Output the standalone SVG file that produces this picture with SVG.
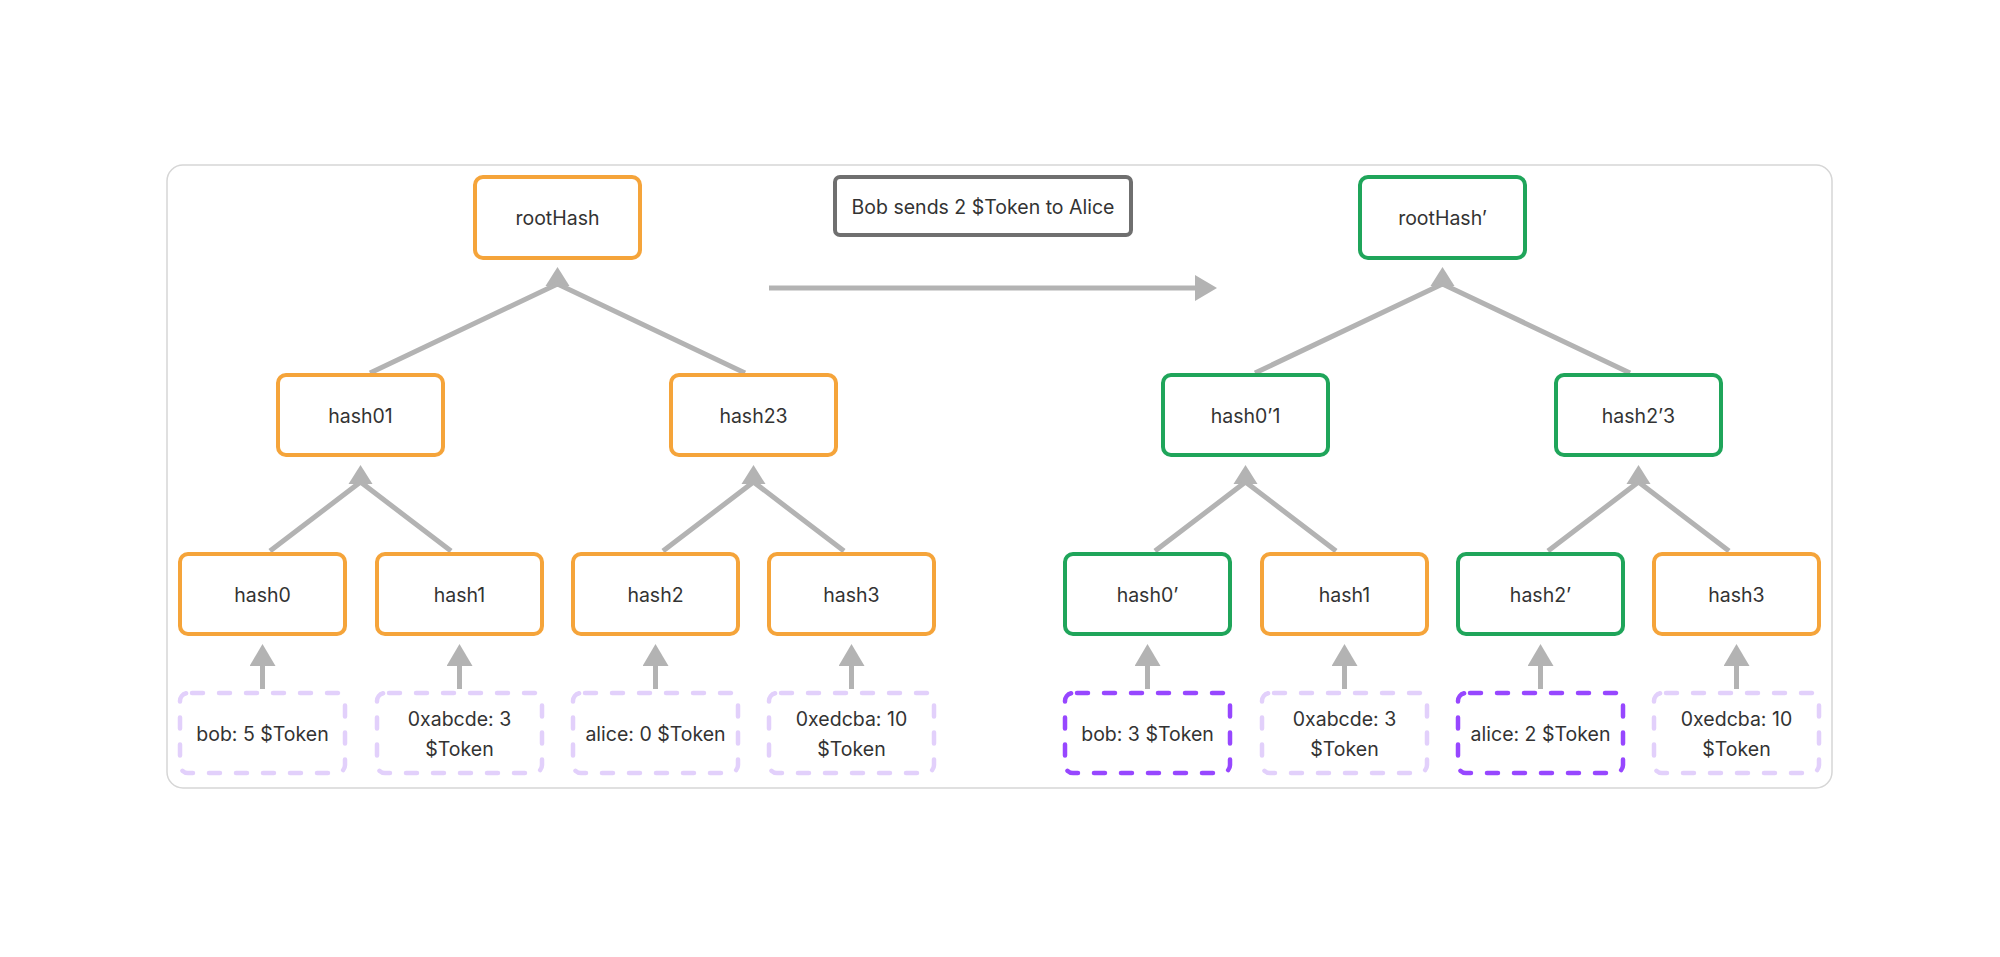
<svg xmlns="http://www.w3.org/2000/svg" xmlns:xlink="http://www.w3.org/1999/xlink" width="2000" height="957" viewBox="0 0 2000 957">
<style>
  text { font-family: Inter, "Noto Sans", "Liberation Sans", sans-serif; font-size: 19.5px; fill: #333333; text-anchor: middle; dominant-baseline: central; }
  .node { fill: #ffffff; stroke-width: 4; }
  .orange { stroke: #f5a43a; }
  .green { stroke: #1fa55a; }
  .leaf { fill: #ffffff; stroke-width: 4.5; stroke-dasharray: 11 16; stroke-dashoffset: -4; stroke-linecap: round; }
  .leaf-old { stroke: #e2d0fb; }
  .leaf-new { stroke: #9747ff; }
  .conn { stroke: #b3b3b3; stroke-width: 5; fill: none; }
  .head { fill: #b3b3b3; }
</style>
<defs>
  <marker id="ah" markerUnits="userSpaceOnUse" viewBox="0 0 22 26" refX="0" refY="13" markerWidth="22" markerHeight="26" orient="auto">
    <path d="M0,0 L22,13 L0,26 Z" fill="#b3b3b3"/>
  </marker>
  <path id="tri" d="M0,0 L12,19 L-12,19 Z"/>
</defs>

<rect x="167" y="165" width="1665" height="623" rx="16" fill="#ffffff" stroke="#d6d6d6" stroke-width="1.5"/>

<g id="connectors">
  <!-- main transition arrow -->
  <line class="conn" x1="769" y1="288" x2="1195" y2="288" marker-end="url(#ah)"/>
  <!-- left tree -->
  <use href="#tri" class="head" x="557.5" y="267"/>
  <polyline class="conn" points="370,373 557.5,284 745,373"/>
  <use href="#tri" class="head" x="360.5" y="465"/>
  <polyline class="conn" points="270,551 360.5,482 451,551"/>
  <use href="#tri" class="head" x="753.5" y="465"/>
  <polyline class="conn" points="663,551 753.5,482 844,551"/>
  <line class="conn" x1="262.5" y1="689" x2="262.5" y2="666" marker-end="url(#ah)"/>
  <line class="conn" x1="459.5" y1="689" x2="459.5" y2="666" marker-end="url(#ah)"/>
  <line class="conn" x1="655.5" y1="689" x2="655.5" y2="666" marker-end="url(#ah)"/>
  <line class="conn" x1="851.5" y1="689" x2="851.5" y2="666" marker-end="url(#ah)"/>
  <!-- right tree -->
  <use href="#tri" class="head" x="1442.5" y="267"/>
  <polyline class="conn" points="1255,373 1442.5,284 1630,373"/>
  <use href="#tri" class="head" x="1245.5" y="465"/>
  <polyline class="conn" points="1155,551 1245.5,482 1336,551"/>
  <use href="#tri" class="head" x="1638.5" y="465"/>
  <polyline class="conn" points="1548,551 1638.5,482 1729,551"/>
  <line class="conn" x1="1147.5" y1="689" x2="1147.5" y2="666" marker-end="url(#ah)"/>
  <line class="conn" x1="1344.5" y1="689" x2="1344.5" y2="666" marker-end="url(#ah)"/>
  <line class="conn" x1="1540.5" y1="689" x2="1540.5" y2="666" marker-end="url(#ah)"/>
  <line class="conn" x1="1736.5" y1="689" x2="1736.5" y2="666" marker-end="url(#ah)"/>
</g>

<g id="label-bob-sends">
  <rect x="835" y="177" width="296" height="58" rx="5" fill="#ffffff" stroke="#6f6f6f" stroke-width="4"/>
  <text x="983" y="207">Bob sends 2 $Token to Alice</text>
</g>

<!-- left tree -->
<g id="rootHash"><rect class="node orange" x="475" y="177" width="165" height="81" rx="8"/><text x="557.5" y="218">rootHash</text></g>
<g id="hash01"><rect class="node orange" x="278" y="375" width="165" height="80" rx="8"/><text x="360.5" y="416">hash01</text></g>
<g id="hash23"><rect class="node orange" x="671" y="375" width="165" height="80" rx="8"/><text x="753.5" y="416">hash23</text></g>
<g id="hash0"><rect class="node orange" x="180" y="554" width="165" height="80" rx="8"/><text x="262.5" y="595">hash0</text></g>
<g id="hash1"><rect class="node orange" x="377" y="554" width="165" height="80" rx="8"/><text x="459.5" y="595">hash1</text></g>
<g id="hash2"><rect class="node orange" x="573" y="554" width="165" height="80" rx="8"/><text x="655.5" y="595">hash2</text></g>
<g id="hash3"><rect class="node orange" x="769" y="554" width="165" height="80" rx="8"/><text x="851.5" y="595">hash3</text></g>
<g id="leaf-bob"><rect class="leaf leaf-old" x="180" y="693" width="165" height="80" rx="8"/><text x="262.5" y="734">bob: 5 $Token</text></g>
<g id="leaf-abcde"><rect class="leaf leaf-old" x="377" y="693" width="165" height="80" rx="8"/><text x="459.5" y="719">0xabcde: 3</text><text x="459.5" y="749">$Token</text></g>
<g id="leaf-alice"><rect class="leaf leaf-old" x="573" y="693" width="165" height="80" rx="8"/><text x="655.5" y="734">alice: 0 $Token</text></g>
<g id="leaf-edcba"><rect class="leaf leaf-old" x="769" y="693" width="165" height="80" rx="8"/><text x="851.5" y="719">0xedcba: 10</text><text x="851.5" y="749">$Token</text></g>

<!-- right tree -->
<g id="rootHash-new"><rect class="node green" x="1360" y="177" width="165" height="81" rx="8"/><text x="1442.5" y="218">rootHash’</text></g>
<g id="hash01-new"><rect class="node green" x="1163" y="375" width="165" height="80" rx="8"/><text x="1245.5" y="416">hash0’1</text></g>
<g id="hash23-new"><rect class="node green" x="1556" y="375" width="165" height="80" rx="8"/><text x="1638.5" y="416">hash2’3</text></g>
<g id="hash0-new"><rect class="node green" x="1065" y="554" width="165" height="80" rx="8"/><text x="1147.5" y="595">hash0’</text></g>
<g id="hash1-right"><rect class="node orange" x="1262" y="554" width="165" height="80" rx="8"/><text x="1344.5" y="595">hash1</text></g>
<g id="hash2-new"><rect class="node green" x="1458" y="554" width="165" height="80" rx="8"/><text x="1540.5" y="595">hash2’</text></g>
<g id="hash3-right"><rect class="node orange" x="1654" y="554" width="165" height="80" rx="8"/><text x="1736.5" y="595">hash3</text></g>
<g id="leaf-bob-new"><rect class="leaf leaf-new" x="1065" y="693" width="165" height="80" rx="8"/><text x="1147.5" y="734">bob: 3 $Token</text></g>
<g id="leaf-abcde-right"><rect class="leaf leaf-old" x="1262" y="693" width="165" height="80" rx="8"/><text x="1344.5" y="719">0xabcde: 3</text><text x="1344.5" y="749">$Token</text></g>
<g id="leaf-alice-new"><rect class="leaf leaf-new" x="1458" y="693" width="165" height="80" rx="8"/><text x="1540.5" y="734">alice: 2 $Token</text></g>
<g id="leaf-edcba-right"><rect class="leaf leaf-old" x="1654" y="693" width="165" height="80" rx="8"/><text x="1736.5" y="719">0xedcba: 10</text><text x="1736.5" y="749">$Token</text></g>
</svg>
